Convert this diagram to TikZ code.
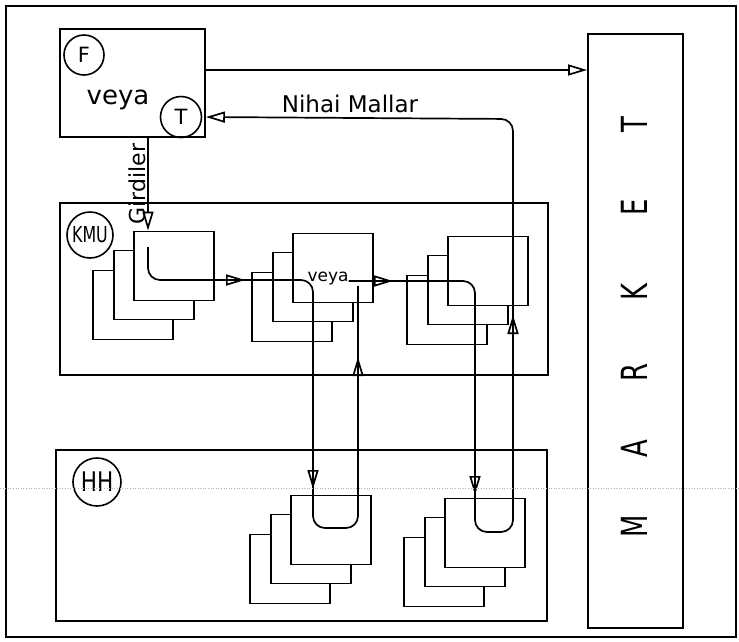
\documentclass[tikz,border=0pt]{standalone}
\usepackage{fontspec}
\setmainfont{DejaVu Sans}
\usetikzlibrary{arrows.meta}
\begin{document}
\begin{tikzpicture}[x=1pt,y=-1pt,
  kutu/.style={draw,line width=1.9pt,inner sep=0pt},
  blok/.style={kutu,fill=white,minimum width=80pt,minimum height=69pt},
  daire/.style={draw,circle,line width=1.6pt,inner sep=0pt},
  yazi/.style={inner sep=0pt},
  akis/.style={line width=1.7pt},
  oka/.style={akis,-{Triangle[open,length=19pt,width=11pt]}}]
\useasboundingbox (0,0) rectangle (739,641);
\draw[line width=2pt] (6,6) rectangle (736,637);
%\draw[step=20,gray,very thin] (0,0) grid (739,641);
\node[kutu,minimum width=488pt,minimum height=172pt] (kmu) at (304,289) {};
\node[kutu,minimum width=491pt,minimum height=171pt] (hh) at (301.5,535.5) {};
\node[kutu,minimum width=95pt,minimum height=594pt] (market) at (635.5,331) {};
\node[kutu,minimum width=145pt,minimum height=108pt] (firma) at (132.5,83) {};
\node[daire,minimum size=40pt,font=\fontsize{21}{24}\selectfont] (f) at (84,55) {F};
\node[daire,minimum size=41pt,font=\fontsize{21}{24}\selectfont] (t) at (181,117) {T};
\node[daire,minimum size=46pt,font=\fontsize{22}{26}\selectfont] (kmuc) at (90,235) {\scalebox{0.72}[1]{KMU}};
\node[daire,minimum size=48pt,font=\fontsize{27}{30}\selectfont] (hhc) at (97,482) {\scalebox{0.8}[1]{HH}};
% stacks of firms and households
\foreach \n/\x/\y in {ka/174/266, kb/333/268, kc/488/271, ha/331/530, hb/485/533}{
  \node[blok] (\n3) at (\x-41,\y+39) {};
  \node[blok] (\n2) at (\x-20,\y+19) {};
  \node[blok] (\n1) at (\x,\y) {};
}
\node[yazi,anchor=base,font=\fontsize{26}{30}\selectfont] (veya1) at (118,104) {veya};
\node[yazi,anchor=base,font=\fontsize{17}{20}\selectfont] (veya2) at (328,281) {veya};
\node[yazi,anchor=base,font=\fontsize{23}{28}\selectfont] (nihai) at (350,112) {Nihai Mallar};
\node[yazi,rotate=90,font=\fontsize{22}{26}\selectfont] (girdi) at (137,184) {Girdiler};
\foreach \h/\yy in {M/526,A/449,R/372,K/292,E/207,T/125}
  \node[yazi,rotate=90,font=\fontsize{36}{40}\selectfont] (m\h) at (634,\yy) {\scalebox{0.72}[1]{\h}};
% flows
\draw[oka] ([yshift=13pt]firma.east) -- ([yshift=13pt]firma.east -| market.west);
\coordinate (g1) at (148,0);
\draw[oka] (g1 |- firma.south) -- (g1 |- ka1.north);
\coordinate (a0) at (148,247);
\coordinate (a1) at (245,280);
\coordinate (a2) at (313,489);
\coordinate (a3) at (358,357);
\draw[akis,rounded corners=12pt] (a0) -- (148,280) -- (313,280) -- (313,528) -- (358,528) -- ([yshift=-5pt]a3 |- veya2.base east);
\draw[oka] ([xshift=-20pt]a1) -- (a1);
\draw[oka] ([yshift=20pt]a2) -- (a2);
\draw[oka] ([yshift=-20pt]a3) -- (a3);
\coordinate (b1) at (393,281);
\coordinate (b2) at (475,495);
\coordinate (b3) at (513,315);
\draw[oka,rounded corners=12pt] (veya2.base east) -- (475,281) -- (475,532) -- (513,532) -- (513,119) -- (firma.east |- t);
\draw[oka] ([xshift=-20pt]b1) -- (b1);
\draw[oka] ([yshift=20pt]b2) -- (b2);
\draw[oka] ([yshift=-20pt]b3) -- (b3);
\draw[gray!60,dotted,line width=0.6pt] (0,488) -- (739,488);
\end{tikzpicture}
\end{document}
